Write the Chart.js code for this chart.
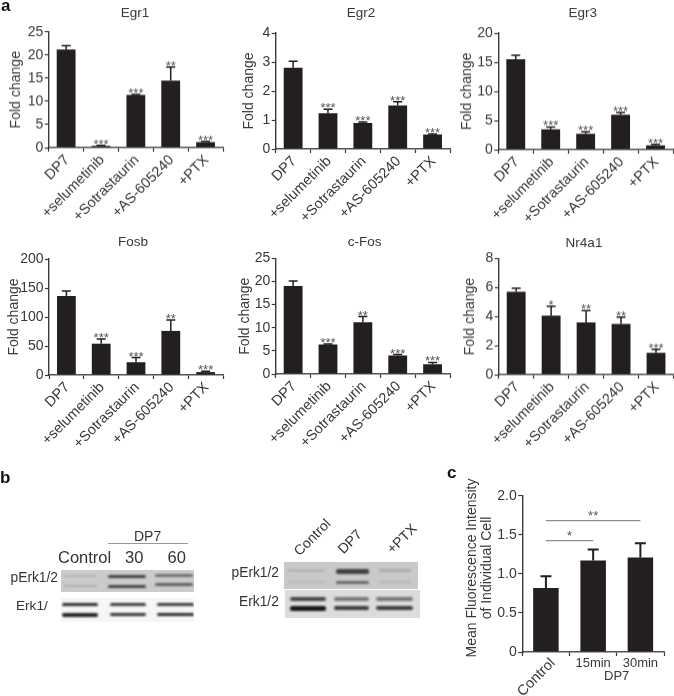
<!DOCTYPE html>
<html><head><meta charset="utf-8">
<script src="https://cdn.jsdelivr.net/npm/chart.js@4"></script>
<style>
html,body{margin:0;padding:0;background:#fff;width:674px;height:696px;overflow:hidden}
#page{position:relative;width:674px;height:696px;overflow:hidden;font-family:"Liberation Sans",Arial,sans-serif;color:#333;filter:blur(0.35px)}
canvas{position:absolute}
.t{position:absolute;white-space:nowrap;line-height:1;transform:translateY(-50%)}
.letter{position:absolute;font-weight:bold;font-size:17px;line-height:1;color:#111}
.box{position:absolute;overflow:hidden}
.band{position:absolute;filter:blur(1.3px);border-radius:2px}
</style></head><body><div id="page"></div>
<script>
const treatments = ["DP7","+selumetinib","+Sotrastaurin","+AS-605240","+PTX"];

const egr1Values = [21.2,0.4,11.4,14.5,1.2];
const egr1Upper  = [22.0,0.5,11.5,17.4,1.35];
const egr1Sig    = ["","***","***","**","***"];

const egr2Values = [2.8,1.23,0.9,1.5,0.5];
const egr2Upper  = [3.03,1.37,0.93,1.63,0.52];
const egr2Sig    = ["","***","***","***","***"];

const egr3Values = [15.5,3.5,2.7,6.0,0.75];
const egr3Upper  = [16.2,3.9,3.05,6.4,0.9];
const egr3Sig    = ["","***","***","***","***"];

const fosbValues = [136,54,22,76,5];
const fosbUpper  = [145,62,30,95,6.5];
const fosbSig    = ["","***","***","**","***"];

const cfosValues = [19,6.4,11.2,4.0,2.1];
const cfosUpper  = [20.1,6.5,12.4,4.2,2.5];
const cfosSig    = ["","***","**","***","***"];

const nr4a1Values = [5.7,4.07,3.6,3.5,1.5];
const nr4a1Upper  = [5.95,4.7,4.4,3.95,1.75];
const nr4a1Sig    = ["","*","**","**","***"];

const timeCategories = ["Control","15min","30min"];
const timeValues = [0.82,1.17,1.21];
const timeUpper  = [0.97,1.31,1.39];
const timeBracketValues = [1.425,1.68];
const timeBracketEnds = [1,2];
const timeBracketSig = ["*","**"];

const page = document.getElementById('page');
const FONT = '"Liberation Sans", Arial, sans-serif';
const INK = '#383838', BAR = '#231f20', AXIS = '#3a3a3a';

function errorPlugin(upper, sig, capHalf, lw){
  return {id:'errs', afterDatasetsDraw(chart){
    const c = chart.ctx, y = chart.scales.y, m = chart.getDatasetMeta(0);
    c.save();
    c.strokeStyle = BAR; c.lineWidth = lw;
    m.data.forEach((b,i)=>{
      const py = y.getPixelForValue(upper[i]);
      c.beginPath();
      c.moveTo(b.x,b.y); c.lineTo(b.x,py);
      c.moveTo(b.x-capHalf,py); c.lineTo(b.x+capHalf,py);
      c.stroke();
    });
    if(sig){
      c.fillStyle = '#555'; c.font = '13px '+FONT; c.textAlign='center'; c.textBaseline='alphabetic';
      m.data.forEach((b,i)=>{ if(sig[i]) c.fillText(sig[i], b.x, y.getPixelForValue(upper[i])+3); });
    }
    c.restore();
  }};
}
function titleShift(cx){
  return {id:'titleShift', afterLayout(chart){
    const t = chart.titleBlock;
    if(t){ t.left = cx - t.width/2; t.right = t.left + t.width; }
  }};
}

function addChart(o){
  const cv = document.createElement('canvas');
  const cLeft = o.cLeft, cTop = o.cTop, W = o.cW, H = o.bottom-cTop+o.xH;
  cv.width = W; cv.height = H;
  cv.style.left = cLeft+'px'; cv.style.top = cTop+'px';
  cv.style.width = W+'px'; cv.style.height = H+'px';
  page.appendChild(cv);
  const titleH = o.title ? 16.2 : 0;
  return new Chart(cv,{
    type:'bar',
    data:{labels:o.labels,datasets:[{data:o.values,backgroundColor:BAR,barPercentage:.54,categoryPercentage:1,borderWidth:0}]},
    options:{
      responsive:false,animation:false,devicePixelRatio:1,
      layout:{autoPadding:false,padding:{top:o.title?0:o.top-cTop,right:W-(o.right-cLeft),left:0,bottom:0}},
      plugins:{legend:{display:false},tooltip:{enabled:false},
        title:{display:!!o.title,text:o.title,color:INK,fullSize:false,
          font:{family:FONT,size:13.5,lineHeight:1.2,weight:'normal'},
          padding:{top:0,bottom:o.top-cTop-titleH}}},
      scales:{
        x:{type:'category',offset:true,
          afterFit:s=>{s.height=o.xH},
          grid:{display:true,drawOnChartArea:false,drawTicks:true,tickLength:4,tickColor:AXIS,tickWidth:1.2},
          border:{color:'#555',width:1.4},
          ticks:{autoSkip:false,minRotation:o.rot,maxRotation:o.rot,color:INK,padding:o.xPad,labelOffset:o.xOff||0,
            font:{family:FONT,size:o.xFont},callback:o.xCb||function(v){return this.getLabelForValue(v)}}},
        y:{min:0,max:o.max,
          afterFit:s=>{s.width=o.left-cLeft},
          grid:{display:true,drawOnChartArea:false,drawTicks:true,tickLength:4,tickColor:AXIS,tickWidth:1.2},
          border:{color:AXIS,width:1.4},
          title:{display:!!o.yTitle,text:o.yTitle,color:INK,padding:0,font:{family:FONT,size:14,lineHeight:1.2}},
          ticks:{stepSize:o.step,color:INK,padding:1.5,font:{family:FONT,size:14},
            callback:o.yCb||(v=>String(v))}}
      }
    },
    plugins:o.plugins
  });
}

function geneChart(title,values,upper,sig,max,step,g){
  const cLeft = Math.round(g.ytx-8.4), cTop = Math.round(g.ty-8);
  addChart({title,labels:treatments,values,max,step,yTitle:'Fold change',rot:45,xFont:14.4,xPad:0,xH:90,xOff:1,
    cLeft,cTop,cW:Math.round(2*(g.tcx-cLeft)),left:g.l,top:g.t,right:g.r,bottom:g.b,
    plugins:[errorPlugin(upper,sig,4.5,1.5),titleShift(g.tcx-cLeft)]});
}
geneChart('Egr1', egr1Values, egr1Upper, egr1Sig, 25, 5, {ytx:16,  tcx:135,   ty:13.3,  l:48.7, t:31.7, r:223, b:147.7});
geneChart('Egr2', egr2Values, egr2Upper, egr2Sig, 4,  1, {ytx:249, tcx:361,   ty:13.3,  l:275.7,t:33,   r:450, b:149.3});
geneChart('Egr3', egr3Values, egr3Upper, egr3Sig, 20, 5, {ytx:467.7,tcx:582.7,ty:13.3,  l:498.3,t:33,   r:673, b:149.7});
geneChart('Fosb', fosbValues, fosbUpper, fosbSig, 200,50,{ytx:14.3,tcx:133,   ty:242.3, l:49,   t:259,  r:223, b:375.3});
geneChart('c-Fos',cfosValues, cfosUpper, cfosSig, 25, 5, {ytx:245.7,tcx:364.7,ty:242.3, l:275.7,t:258.3,r:450, b:374.3});
geneChart('Nr4a1',nr4a1Values,nr4a1Upper,nr4a1Sig,8,  2, {ytx:470, tcx:584,   ty:242.7, l:498.7,t:258.3,r:673.5,b:374.7});

/* panel c */
const panelC = {id:'panelC',afterDatasetsDraw(chart){
  const c = chart.ctx, x = chart.scales.x, y = chart.scales.y;
  const ox = 440, oy = 460; // canvas origin on the page
  c.save();
  c.strokeStyle='#8c8c8c'; c.lineWidth=1.3;
  c.fillStyle='#555'; c.font='13px '+FONT; c.textAlign='center'; c.textBaseline='alphabetic';
  timeBracketValues.forEach((v,i)=>{
    const py=y.getPixelForValue(v), a=x.getPixelForTick(0), b=x.getPixelForTick(timeBracketEnds[i]);
    c.beginPath(); c.moveTo(a,py); c.lineTo(b,py); c.stroke();
    c.fillText(timeBracketSig[i],(a+b)/2,py-0.5);
  });
  c.fillStyle=INK;
  c.font='14px '+FONT; c.textBaseline='middle';
  ['Mean Fluorescence Intensity','of Individual Cell'].forEach((s,i)=>{
    c.save(); c.translate(471.7-ox+i*15,568-oy); c.rotate(-Math.PI/2); c.fillText(s,0,0); c.restore();
  });
  c.save(); c.translate(x.getPixelForTick(0)+7,y.bottom+9); c.rotate(-Math.PI/4);
  c.textAlign='right'; c.font='14.5px '+FONT; c.fillText(timeCategories[0],0,0); c.restore();
  c.font='13px '+FONT; c.textAlign='center';
  c.fillText('DP7',616.7-ox,676-oy);
  c.restore();
}};
addChart({title:'',labels:timeCategories,values:timeValues,max:2,step:.5,yTitle:'',rot:0,xFont:13,xPad:0,xH:44,
  cLeft:440,cTop:460,cW:234,left:522.3,top:495.7,right:664,bottom:652.3,
  xCb:function(v){return v===0?'':this.getLabelForValue(v)},
  yCb:v=>v===0?'0':v.toFixed(1),
  plugins:[errorPlugin(timeUpper,null,5.5,2),panelC]});

/* page text and blots */
function letter(s,x,base){const d=document.createElement('div');d.className='letter';d.textContent=s;d.style.left=x+'px';d.style.top=(base-13.5)+'px';page.appendChild(d)}
letter('a',1,10); letter('b',0,482); letter('c',447,477);

function text(s,x,yc,size,rot){
  const d=document.createElement('div');d.className='t';d.textContent=s;
  d.style.left=x+'px';d.style.top=yc+'px';d.style.fontSize=size+'px';
  if(rot){d.style.transformOrigin='0 50%';d.style.transform='translateY(-50%) rotate('+rot+'deg)'}
  page.appendChild(d);
}
function blot(x,y,w,h,bg,bands){
  const b=document.createElement('div');b.className='box';
  b.style.cssText+=`left:${x}px;top:${y}px;width:${w}px;height:${h}px;background:${bg}`;
  bands.forEach(r=>{
    const s=document.createElement('div');s.className='band';
    s.style.cssText+=`left:${r[0]}px;top:${r[1]-y-r[3]/2}px;width:${r[2]}px;height:${r[3]}px;background:${r[4]}`;
    b.appendChild(s);
  });
  page.appendChild(b);
}
/* left blot; band x values are relative to the blot box */
text('DP7',134,535.7,14);
const rule=document.createElement('div');rule.style.cssText='position:absolute;left:108px;top:543px;width:80px;height:1px;background:#999';page.appendChild(rule);
text('Control',58,557.3,16.5); text('30',125,557.3,16.5); text('60',167.5,557.3,16.5);
text('pErk1/2',10.5,578.3,13.8); text('Erk1/',16,605.7,13.6);
blot(60.7,570,133.3,21.7,'#cbcbcb',[
  [3,576,33,2,'#b4b4b4'],[3,586,33,2,'#b0b0b0'],
  [47,576,38,3,'#3f3f3f'],[47,586.5,38,3,'#444'],
  [94,575.5,38,2.5,'#6e6e6e'],[94,584.5,38,3,'#5e5e5e']]);
blot(60.7,598,133.3,24,'#f6f6f6',[
  [1,604.7,36,3.5,'#2c2c2c'],[1,614.5,36,4,'#222'],
  [49,604.7,36,3,'#3a3a3a'],[49,614.5,36,3.5,'#333'],
  [96,604.7,37,3,'#3a3a3a'],[96,614.5,37,3.5,'#2c2c2c']]);
/* right blot */
text('Control',296,553,14,-45); text('DP7',340,551,14,-45); text('+PTX',389,551,14,-45);
text('pErk1/2',231.5,573.3,13.8); text('Erk1/2',239,601.7,13.8);
blot(284,561.7,133.7,27.3,'#c9c9c9',[
  [3,570.5,38,2.5,'#b4b4b4'],[3,582,38,2.5,'#b8b8b8'],
  [52,571.5,33,5,'#3f3f3f'],[52,582.5,33,3.5,'#666'],
  [95,570.5,32,2.5,'#ababab'],[95,582,32,2.5,'#b2b2b2']]);
blot(285,590,135,28,'#dcdcdc',[
  [5,599,36,4,'#444'],[5,608.3,36,5,'#151515'],
  [49,599,35,4,'#777'],[49,608.3,35,4,'#3a3a3a'],
  [91,599,37,3.5,'#777'],[91,608.3,37,4,'#3a3a3a']]);
</script></body></html>
